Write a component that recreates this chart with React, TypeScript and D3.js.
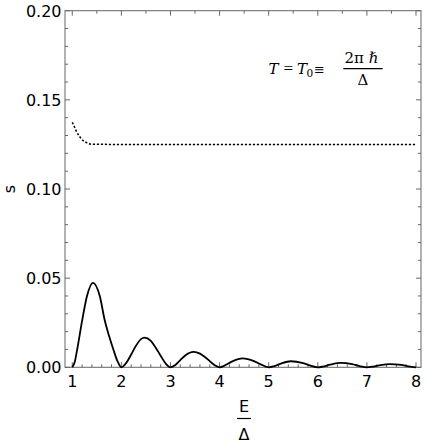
import React from "react";
import * as d3 from "d3";

const W = 427;
const H = 444;

// Solid curve s(E/Δ)
const solidX = [
  1.0, 1.05, 1.1, 1.2, 1.3, 1.42, 1.56, 1.66, 1.75, 1.84, 1.92, 2.0,
  2.1, 2.2, 2.3, 2.4, 2.47, 2.6, 2.7, 2.8, 2.9, 3.0,
  3.1, 3.2, 3.3, 3.47, 3.6, 3.7, 3.8, 3.9, 4.0,
  4.1, 4.25, 4.47, 4.7, 4.85, 5.0,
  5.1, 5.25, 5.45, 5.7, 5.85, 6.0,
  6.1, 6.25, 6.47, 6.7, 6.85, 7.0,
  7.1, 7.25, 7.47, 7.7, 7.85, 8.0,
];
const solidY = [
  0, 0.003, 0.01, 0.026, 0.04, 0.0474, 0.04, 0.0265, 0.0175, 0.0097, 0.0035, 0,
  0.0025, 0.0072, 0.0122, 0.0158, 0.0166, 0.0148, 0.011, 0.0065, 0.0022, 0,
  0.0013, 0.004, 0.0066, 0.0086, 0.0077, 0.0058, 0.0035, 0.0011, 0,
  0.0009, 0.0032, 0.005, 0.0035, 0.0015, 0,
  0.0005, 0.0021, 0.0034, 0.0024, 0.001, 0,
  0.0004, 0.0015, 0.0025, 0.0018, 0.0007, 0,
  0.0003, 0.0011, 0.0018, 0.0013, 0.0005, 0,
];

// Dotted curve
const dotX = [1.0, 1.05, 1.09, 1.14, 1.19, 1.29, 1.4, 2, 4, 6, 8];
const dotY = [0.1374, 0.1345, 0.132, 0.1298, 0.128, 0.126, 0.1251, 0.125, 0.125, 0.125, 0.125];

const xMajor = [1, 2, 3, 4, 5, 6, 7, 8];
const yMajor = [0, 0.05, 0.1, 0.15, 0.2];
const yLabels = ["0.00", "0.05", "0.10", "0.15", "0.20"];

export default function App() {
  const x = d3.scaleLinear().domain([0.852, 8.102]).range([65, 421]);
  const y = d3.scaleLinear().domain([0, 0.2]).range([367.3, 10.7]);

  const solid = d3
    .line<number>()
    .x((_, i) => x(solidX[i]))
    .y((d) => y(d))
    .curve(d3.curveMonotoneX)(solidY) as string;

  const dotted = d3
    .line<number>()
    .x((_, i) => x(dotX[i]))
    .y((d) => y(d))
    .curve(d3.curveMonotoneX)(dotY) as string;

  const [x0, x1] = x.range();
  const [yb, yt] = y.range();
  const axisColor = "#666";

  const bottomMinor = d3.range(1, 8.01, 0.2).filter((v) => Math.abs(v - Math.round(v)) > 1e-6);
  const topMinor = d3.range(1.5, 8, 1);
  const yMinor = d3.range(0.01, 0.2, 0.01).filter((v) => Math.abs(v / 0.05 - Math.round(v / 0.05)) > 1e-6);

  const font = "'DejaVu Sans', sans-serif";
  const serif = "'DejaVu Serif', serif";
  const serif2 = "'Liberation Serif', serif";

  return (
    <svg width={W} height={H} style={{ position: "absolute", left: 0, top: 0, background: "#fff" }}>
      <rect x={0} y={0} width={W} height={H} fill="#fff" />
      {/* frame */}
      <rect x={x0} y={yt} width={x1 - x0} height={yb - yt} fill="none" stroke={axisColor} strokeWidth={1} />
      {/* bottom ticks */}
      {xMajor.map((v) => (
        <g key={"xb" + v}>
          <line x1={x(v)} x2={x(v)} y1={yb} y2={yb - 5} stroke={axisColor} />
          <line x1={x(v)} x2={x(v)} y1={yt} y2={yt + 5} stroke={axisColor} />
          <text x={x(v)} y={387.3} textAnchor="middle" fontFamily={font} fontSize={16} fill="#000">
            {v}
          </text>
        </g>
      ))}
      {bottomMinor.map((v) => (
        <line key={"xm" + v} x1={x(v)} x2={x(v)} y1={yb} y2={yb - 3} stroke={axisColor} />
      ))}
      {topMinor.map((v) => (
        <line key={"xt" + v} x1={x(v)} x2={x(v)} y1={yt} y2={yt + 3} stroke={axisColor} />
      ))}
      {/* y ticks */}
      {yMajor.map((v, i) => (
        <g key={"y" + v}>
          <line x1={x0} x2={x0 + 5} y1={y(v)} y2={y(v)} stroke={axisColor} />
          <line x1={x1} x2={x1 - 5} y1={y(v)} y2={y(v)} stroke={axisColor} />
          <text x={61.5} y={y(v) + 5.8} textAnchor="end" fontFamily={font} fontSize={16} fill="#000">
            {yLabels[i]}
          </text>
        </g>
      ))}
      {yMinor.map((v) => (
        <g key={"ym" + v}>
          <line x1={x0} x2={x0 + 3} y1={y(v)} y2={y(v)} stroke={axisColor} />
          <line x1={x1} x2={x1 - 3} y1={y(v)} y2={y(v)} stroke={axisColor} />
        </g>
      ))}
      {/* curves */}
      <path d={dotted} fill="none" stroke="#000" strokeWidth={1.5} strokeDasharray="2.2,1.8" />
      <path d={solid} fill="none" stroke="#000" strokeWidth={1.8} strokeLinejoin="round" />
      {/* y label */}
      <text transform="translate(15,189) rotate(-90)" textAnchor="middle" fontFamily={font} fontSize={16} fill="#000">
        s
      </text>
      {/* x label */}
      <text x={244} y={411.7} textAnchor="middle" fontFamily={font} fontSize={16} fill="#000">
        E
      </text>
      <line x1={237} x2={251} y1={418.5} y2={418.5} stroke="#000" strokeWidth={1.2} />
      <text x={244} y={440} textAnchor="middle" fontFamily={font} fontSize={16} fill="#000">
        Δ
      </text>
      {/* annotation */}
      <g fontFamily={serif} fontSize={15} fill="#000">
        <text x={268.5} y={73.5} fontStyle="italic">T</text>
        <text x={283.5} y={73.5} fontFamily={serif2} fontSize={17}>=</text>
        <text x={297} y={73.5} fontStyle="italic">T</text>
        <text x={306.5} y={76.5} fontSize={10.5}>0</text>
        <text x={314} y={73.5} fontSize={13}>≡</text>
        <text x={344.5} y={63.3}>2π <tspan fontStyle="italic">ℏ</tspan></text>
        <line x1={343.3} x2={382.7} y1={68.6} y2={68.6} stroke="#000" strokeWidth={1.1} />
        <text x={363} y={84.8} textAnchor="middle">Δ</text>
      </g>
    </svg>
  );
}
